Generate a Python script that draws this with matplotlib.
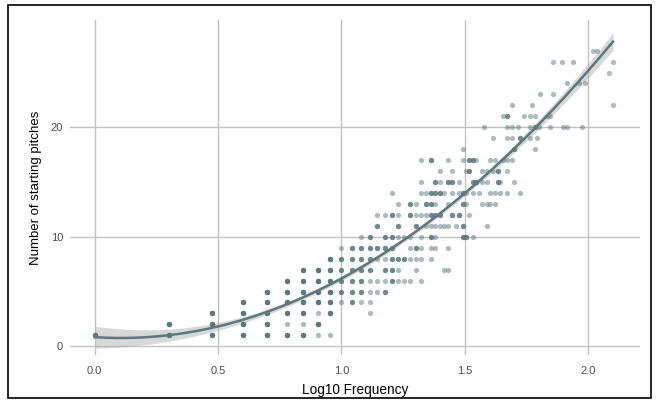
import numpy as np
import matplotlib.pyplot as plt
from matplotlib.patches import Rectangle

plt.rcParams['font.family'] = ['Liberation Sans', 'DejaVu Sans']

# number of starting pitches (y) and the song frequencies seen at each value
pitches = list(range(1, 28))
# dark dots = several overlapping songs, light dots = a single song
dark_freqs = [
    [1, 2, 3, 4, 5, 6, 7],
    [2, 3, 4, 5, 8],
    [3, 4, 5, 6, 7, 9],
    [4, 5, 6, 7, 8, 9, 11],
    [5, 6, 7, 8, 9, 10, 11, 12, 15],
    [6, 7, 8, 9, 10, 11, 12, 16],
    [7, 8, 9, 10, 11, 12, 13, 15, 16],
    [9, 10, 11, 12, 13, 16, 17, 18],
    [11, 12, 13, 14, 15, 16, 20],
    [13, 15, 16, 23, 31, 32],
    [14, 17, 20, 31],
    [16, 19, 23, 24, 25, 28, 30],
    [19, 22, 23, 31],
    [23, 24, 25, 31],
    [24, 27, 28, 34, 35, 43],
    [33, 43],
    [23, 33, 34],
    [50],
    [53],
    [61],
    [47],
    [], [], [], [], [], [],
]
light_freqs = [
    [8, 9],
    [6, 7],
    [8, 13],
    [10, 12, 13],
    [13, 14],
    [13, 14, 15, 17, 18, 19, 21],
    [17, 20, 26, 27],
    [14, 15, 19, 20, 21, 23],
    [10, 19, 21, 23, 24, 27],
    [12, 17, 18, 19, 21, 24, 34],
    [22, 23, 24, 25, 26, 27, 29, 39],
    [14, 15, 17, 20, 21, 22, 33],
    [17, 20, 24, 27, 32, 37, 39, 40, 42],
    [16, 21, 22, 26, 28, 30, 32, 34, 36, 40, 42, 44, 47, 53],
    [21, 25, 30, 37, 39, 44, 50],
    [25, 28, 32, 37, 39, 41, 47],
    [21, 27, 31, 35, 40, 42, 45, 47, 49],
    [31, 61],
    [41, 47, 49, 58, 62],
    [38, 47, 49, 52, 58, 63, 70, 79, 82, 94],
    [45, 55, 58, 61, 68, 70],
    [49, 59, 126],
    [64, 72],
    [82, 92, 97],
    [121],
    [72, 78, 87, 126],
    [105, 109],
]
# songs stacked on one dark dot: rare songs are far more common
overlap_rare = 6   # frequency below 10
overlap_common = 3

xs, ys = [], []
for p, dk, lt in zip(pitches, dark_freqs, light_freqs):
    for f in dk:
        k = overlap_rare if f < 10 else overlap_common
        xs += [np.log10(f)] * k
        ys += [p] * k
    for f in lt:
        xs.append(np.log10(f))
        ys.append(p)
xs = np.array(xs)
ys = np.array(ys, dtype=float)

# quadratic fit with 95% confidence band
X = np.vander(xs, 3)
beta, rss, _, _ = np.linalg.lstsq(X, ys, rcond=None)
sigma2 = rss[0] / (len(xs) - 3)
cov = sigma2 * np.linalg.inv(X.T @ X)
grid = np.linspace(xs.min(), xs.max(), 200)
G = np.vander(grid, 3)
fit = G @ beta
se = np.sqrt(np.einsum('ij,jk,ik->i', G, cov, G))

col = '#5b787e'
fig = plt.figure(figsize=(6.56, 4.03), dpi=100)
ax = fig.add_axes([70 / 656, 1 - 355 / 403, 570 / 656, 335 / 403])

ax.scatter(xs, ys, s=14, color=col, alpha=0.5, linewidths=0, zorder=3)
ax.fill_between(grid, fit - 1.97 * se, fit + 1.97 * se, color='#b3b3b3', alpha=0.5,
                linewidth=0, zorder=2)
ax.plot(grid, fit, color=col, linewidth=1.8, zorder=4)

ax.set_xlim(-0.10, 2.21)
ax.set_ylim(-0.8, 29.8)
ax.set_xticks([0, 0.5, 1.0, 1.5, 2.0])
ax.set_xticklabels(['0.0', '0.5', '1.0', '1.5', '2.0'])
ax.set_yticks([0, 10, 20])
ax.grid(True, color='#c2c2c2', linewidth=1.0, zorder=0)
ax.set_axisbelow(True)
for s in ax.spines.values():
    s.set_visible(False)
ax.tick_params(length=0, labelsize=8, labelcolor='#4d4d4d')
ax.tick_params(axis='x', pad=8)
ax.tick_params(axis='y', pad=5)
ax.set_xlabel('Log10 Frequency', fontsize=9.8, labelpad=5)
ax.set_ylabel('Number of starting pitches', fontsize=9.5, labelpad=6)

fig.patches.append(Rectangle((8 / 656, 5 / 403), 643 / 656, 393 / 403, fill=False,
                             edgecolor='black', linewidth=1.2, transform=fig.transFigure))

fig.savefig('out.png', dpi=100)
